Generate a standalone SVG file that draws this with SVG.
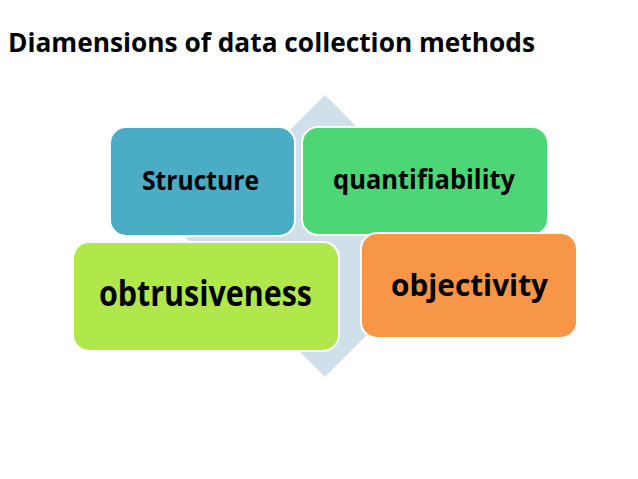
<svg xmlns="http://www.w3.org/2000/svg" width="638" height="479" viewBox="0 0 638 479">
  <style>
    .box { stroke: #ffffff; stroke-width: 2; }
    .lbl { font-family: "Open Sans", Lato, sans-serif; font-weight: bold; fill: #000000; font-variant-ligatures: none; }
  </style>
  <rect width="638" height="479" fill="#ffffff"/>
  <text class="lbl" x="8" y="52" font-size="27" textLength="527" lengthAdjust="spacingAndGlyphs">Diamensions of data collection methods</text>
  <g id="connectors">
    <polygon points="325,95 466,236 325,377 184,236" fill="#d0e0ea"/>
  </g>
  <g id="structure">
    <rect class="box" x="110" y="127" width="185" height="109" rx="16" fill="#4bacc6"/>
    <text class="lbl" x="142" y="190" font-size="26" textLength="117" lengthAdjust="spacingAndGlyphs">Structure</text>
  </g>
  <g id="quantifiability">
    <rect class="box" x="302" y="127" width="246" height="108" rx="16" fill="#4cd676"/>
    <text class="lbl" x="333" y="189" font-size="26" textLength="182" lengthAdjust="spacingAndGlyphs">quantifiability</text>
  </g>
  <g id="obtrusiveness">
    <rect class="box" x="73" y="242" width="266" height="109" rx="16" fill="#b0e84c"/>
    <text class="lbl" x="99" y="306" font-size="35" textLength="213" lengthAdjust="spacingAndGlyphs">obtrusiveness</text>
  </g>
  <g id="objectivity">
    <rect class="box" x="361" y="233" width="216" height="105" rx="16" fill="#f79646"/>
    <text class="lbl" x="391" y="296" font-size="31" textLength="157" lengthAdjust="spacingAndGlyphs">objectivity</text>
  </g>
</svg>
